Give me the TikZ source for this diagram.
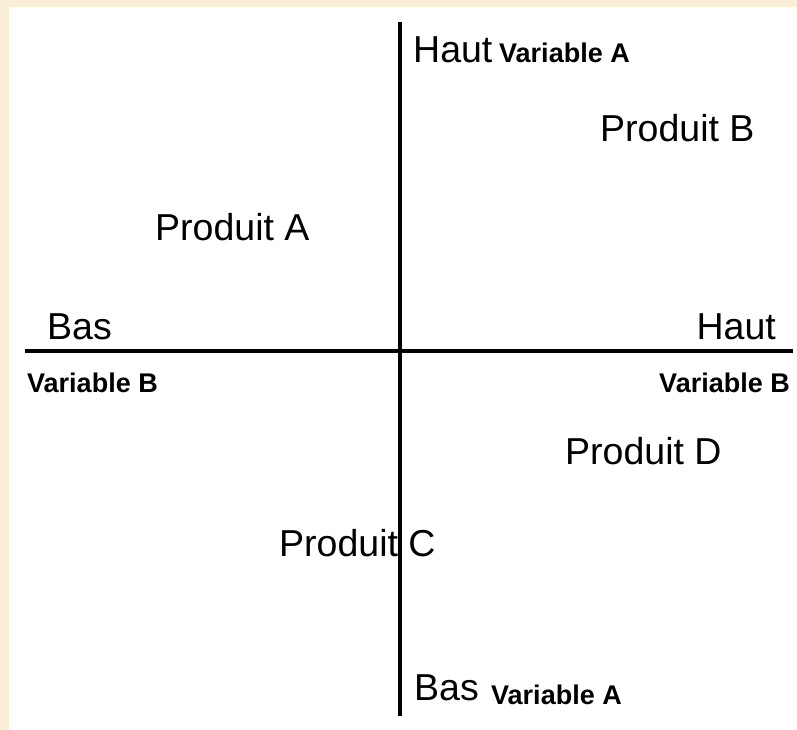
\documentclass[tikz,border=0pt]{standalone}
\usepackage{fontspec}
\setmainfont{Liberation Sans}
\definecolor{beige}{RGB}{250,238,214}
\begin{document}
\begin{tikzpicture}[x=1pt,y=-1pt,
  big/.style={inner sep=0pt,font=\fontsize{37.5}{40}\selectfont},
  lbl/.style={inner sep=0pt,font=\bfseries\fontsize{27}{29}\selectfont},
  axis/.style={line width=3.5pt}]
\useasboundingbox (0,0) rectangle (797,730);
\fill[beige] (0,0) rectangle (797,730);
\fill[white] (9,7) rectangle (797,730);
\coordinate (vtop) at (400,22);
\coordinate (vbot) at (400,716);
\coordinate (hleft) at (25,351);
\coordinate (hright) at (793,351);
\draw[axis] (vtop) -- (vbot);
\draw[axis] (hleft) -- (hright);
\node[big,anchor=base west] (hauttop) at (413,63) {Haut};
\node[lbl,anchor=base west] (varAtop) at (499,63) {Variable A};
\node[big,anchor=base west] (pB) at (600,142) {Produit B};
\node[big,anchor=base west] (pA) at (155,240) {Produit A};
\node[big,anchor=base west] (basleft) at (47,339) {Bas};
\node[big,anchor=base east] (hautright) at (776,339) {Haut};
\node[lbl,anchor=base west] (varBleft) at (27,392) {Variable B};
\node[lbl,anchor=base east] (varBright) at (790,392) {Variable B};
\node[big,anchor=base west] (pD) at (565,464) {Produit D};
\node[big,anchor=base west] (pC) at (279,556) {Produit C};
\node[big,anchor=base west] (basbot) at (414,700) {Bas};
\node[lbl,anchor=base west] (varAbot) at (491,704) {Variable A};
\end{tikzpicture}
\end{document}
